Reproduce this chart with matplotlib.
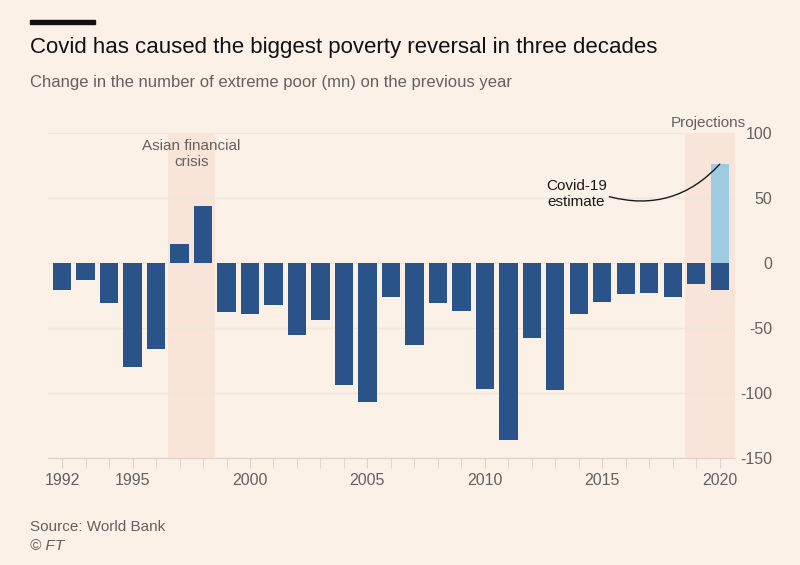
import matplotlib
matplotlib.use("Agg")
import matplotlib.pyplot as plt
from matplotlib.patches import Rectangle

# data (change in extreme poor, mn, on previous year)
years = list(range(1992, 2021))
change = [-21, -13, -31, -80, -66, 15, 44, -38, -39, -32, -55, -44, -94, -107,
          -26, -63, -31, -37, -97, -136, -58, -98, -39, -30, -24, -23, -26, -16, -21]
covid_year = 2020
covid_extra = 76
tick_years = [1992, 1995, 2000, 2005, 2010, 2015, 2020]
y_ticks = [-150, -100, -50, 0, 50, 100]
asian_crisis = (1996.5, 1998.5)
projections = (2018.5, 2020.65)

bg = "#fcf1e7"
dark = "#2a5489"
light = "#9ccbe2"
shade = "#f8e4d8"
grey = "#66605c"
axis_grey = "#dcd2c9"
plt.rcParams["font.family"] = ["Liberation Sans", "DejaVu Sans"]
plt.rcParams["axes.unicode_minus"] = False

fig = plt.figure(figsize=(8, 5.65), dpi=100, facecolor=bg)
ax = fig.add_axes([48/800, 1-458/565, (735-48)/800, (458-133)/565])
ax.set_facecolor(bg)

ax.axvspan(*asian_crisis, color=shade, lw=0, zorder=1)
ax.axvspan(*projections, color=shade, lw=0, zorder=1)
ax.bar(years, change, width=0.78, color=dark, zorder=3)
ax.bar([covid_year], [covid_extra], width=0.78, color=light, zorder=3)

ax.set_xlim(1991.4, 2020.65)
ax.set_ylim(-150, 100)
ax.set_yticks(y_ticks)
ax.grid(axis="y", color="#f2e6db", lw=1, zorder=0)
ax.yaxis.tick_right()
ax.tick_params(axis="y", length=0, pad=27, labelsize=11.5, labelcolor=grey)
for lab in ax.get_yticklabels():
    lab.set_horizontalalignment("right")

ax.set_xticks(years, minor=True)
ax.set_xticks(tick_years)
ax.tick_params(axis="x", which="both", length=7, color=axis_grey, labelsize=11.5,
               labelcolor=grey, pad=4)
for s in ["top", "left", "right"]:
    ax.spines[s].set_visible(False)
ax.spines["bottom"].set_color(axis_grey)

ax.text(1997.5, 84, "Asian financial\ncrisis", ha="center", va="center",
        fontsize=11, color=grey, linespacing=1.15, zorder=4)
ax.text(2019.5, 102, "Projections", ha="center", va="bottom",
        fontsize=11, color=grey, clip_on=False)
ax.text(2013.9, 53, "Covid-19\nestimate", ha="center", va="center",
        fontsize=11, color="#1a1a1a", linespacing=1.15, zorder=4)
ax.annotate("", xy=(2020.0, 76), xytext=(2015.3, 51),
            arrowprops=dict(arrowstyle="-", color="#1a1a1a", lw=1,
                            connectionstyle="arc3,rad=0.3", shrinkA=0, shrinkB=0),
            zorder=4)

fig.add_artist(Rectangle((30/800, 1-24/565), 65/800, 4/565, color="#111111",
                         transform=fig.transFigure))
fig.text(30/800, 1-47/565, "Covid has caused the biggest poverty reversal in three decades",
         fontsize=16, color="#111111", va="center")
fig.text(30/800, 1-82/565, "Change in the number of extreme poor (mn) on the previous year",
         fontsize=12, color=grey, va="center")
fig.text(30/800, 1-527/565, "Source: World Bank", fontsize=11, color=grey, va="center")
fig.text(30/800, 1-546/565, "© FT", fontsize=11, color=grey, va="center", style="italic")

fig.savefig("out.png", dpi=100, facecolor=bg)
